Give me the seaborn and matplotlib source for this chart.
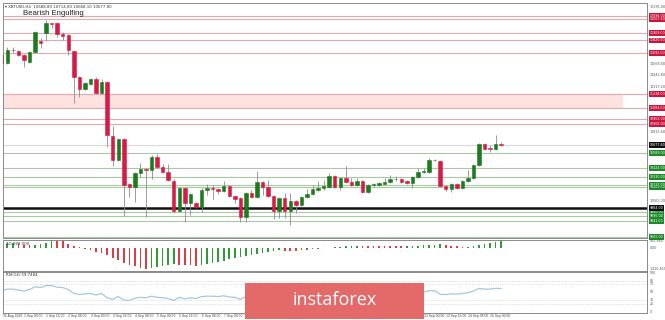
import numpy as np
import pandas as pd
import matplotlib
matplotlib.use("Agg")
import matplotlib.pyplot as plt
import matplotlib.transforms as mtransforms
from matplotlib.patches import Rectangle
import seaborn as sns

# ---------------- data ----------------
opens = [11667, 11579, 11722, 11711, 11667, 11590, 11700, 11821, 11909, 12019,
         12019, 11898, 11887, 11711, 11425, 11293, 11348, 11403, 11249, 11370,
         10776, 10512, 10743, 10248, 10215, 10369, 10413, 10402, 10545, 10435,
         10380, 10281, 9951, 10204, 10039, 10039, 9995, 10182, 10204, 10193,
         10171, 10226, 10116, 10094, 9885, 10149, 10105, 10270, 10215, 10116,
         9951, 10094, 9951, 10061, 10017, 10105, 10138, 10182, 10204, 10215,
         10336, 10215, 10314, 10270, 10237, 10281, 10160, 10232, 10237, 10248,
         10270, 10303, 10303, 10281, 10259, 10325, 10380, 10380, 10512, 10501,
         10226, 10193, 10248, 10204, 10281, 10314, 10457, 10688, 10644, 10633,
         10688.8]
highs = [11678, 11755, 11755, 11722, 11678, 11711, 11931, 11854, 12052, 12024,
         12030, 11920, 11898, 11722, 11436, 11370, 11414, 11425, 11403, 11381,
         10886, 10754, 10754, 10259, 10380, 10479, 10424, 10567, 10578, 10468,
         10468, 10303, 10215, 10215, 10149, 10050, 10204, 10248, 10237, 10204,
         10281, 10237, 10127, 10105, 10160, 10182, 10391, 10281, 10292, 10127,
         10105, 10149, 10149, 10072, 10116, 10193, 10237, 10281, 10292, 10369,
         10347, 10325, 10446, 10314, 10314, 10292, 10248, 10259, 10270, 10314,
         10347, 10336, 10314, 10292, 10336, 10424, 10424, 10534, 10523, 10512,
         10237, 10259, 10259, 10292, 10402, 10468, 10699, 10699, 10677, 10787,
         10714.8]
lows = [11568, 11568, 11689, 11656, 11535, 11579, 11689, 11744, 11821, 11964,
        11865, 11832, 11667, 11139, 11205, 11282, 11337, 11238, 11238, 10655,
        10446, 10501, 9896, 10105, 10050, 10325, 9885, 10303, 10424, 10369,
        10281, 9929, 9940, 9830, 9907, 9984, 9940, 10127, 10083, 10138,
        10160, 10105, 10039, 9830, 9830, 10094, 10094, 10127, 10105, 9863,
        9874, 9874, 9797, 9929, 10006, 10094, 10127, 10171, 10182, 10204,
        10204, 10182, 10259, 10226, 10226, 10149, 10149, 10215, 10226, 10237,
        10259, 10281, 10259, 10248, 10204, 10314, 10369, 10369, 10501, 10215,
        10171, 10160, 10193, 10193, 10270, 10303, 10446, 10622, 10600, 10622,
        10668.1]
closes = [11579, 11722, 11717, 11667, 11612, 11700, 11920, 11799, 12019, 12013,
          11898, 11876, 11722, 11425, 11293, 11359, 11403, 11249, 11370, 10787,
          10512, 10743, 10237, 10215, 10369, 10413, 10402, 10545, 10435, 10380,
          10292, 9951, 10204, 10039, 10138, 9995, 10182, 10204, 10198, 10171,
          10226, 10116, 10083, 9885, 10149, 10105, 10270, 10215, 10116, 9951,
          10094, 9951, 10061, 10017, 10105, 10138, 10193, 10204, 10226, 10336,
          10215, 10314, 10270, 10237, 10281, 10160, 10237, 10243, 10259, 10270,
          10303, 10308, 10270, 10259, 10325, 10380, 10391, 10512, 10507, 10226,
          10193, 10248, 10204, 10281, 10314, 10457, 10688, 10633, 10633, 10688,
          10677.8]

ao_values = [230, 260, 290, 200, 150, 140, 190, 240, 330, 440,
             430, 400, 250, 110, 40, -80, -180, -280, -360, -520,
             -700, -800, -1000, -1150, -1250, -1330, -1410, -1370, -1300, -1220,
             -1160, -1110, -1130, -1150, -1170, -1190, -1140, -1080, -1000, -930,
             -860, -780, -700, -620, -540, -470, -400, -330, -270, -220,
             -180, -200, -215, -225, -190, -150, -110, -70, -40, -10,
             20, 45, 80, 110, 130, 120, 110, 100, 95, 90,
             85, 80, 70, 90, 110, 130, 150, 170, 190, 200,
             170, 130, 90, 30, 40, 90, 180, 250, 310, 360,
             406]

rsi_values = [55, 58, 58, 56, 53, 57, 64, 62, 67, 67,
              63, 62, 57, 47, 44, 46, 47, 43, 47, 36,
              32, 39, 30, 29, 35, 37, 36, 40, 37, 36,
              34, 29, 37, 33, 36, 34, 39, 40, 40, 39,
              41, 38, 37, 32, 39, 38, 42, 41, 38, 34,
              38, 34, 37, 36, 38, 39, 41, 41, 42, 45,
              42, 45, 43, 42, 44, 40, 43, 43, 44, 44,
              46, 46, 45, 44, 47, 49, 50, 54, 54, 45,
              44, 46, 45, 47, 49, 53, 60, 58, 58, 60,
              59.75]

date_labels = ["31 Aug 2020", "1 Sep 00:00", "1 Sep 16:00", "2 Sep 08:00", "3 Sep 00:00",
               "3 Sep 16:00", "4 Sep 08:00", "5 Sep 00:00", "5 Sep 16:00", "6 Sep 08:00",
               "7 Sep 00:00", "7 Sep 16:00", "8 Sep 08:00", "9 Sep 00:00", "9 Sep 16:00",
               "10 Sep 08:00", "11 Sep 00:00", "11 Sep 16:00", "12 Sep 08:00", "13 Sep 00:00",
               "13 Sep 16:00", "14 Sep 08:00", "15 Sep 00:00"]
date_label_bars = [0, 4, 8, 12, 16, 20, 24, 28, 32, 36, 40, 44, 48, 52, 56, 60,
                   64, 68, 72, 76, 80, 84, 88]

red_levels = [12096, 12057.5, 11909, 11826.5, 11692, 10963, 10908]
zone_levels = [11084, 11238]
green_levels = [10589, 10424, 10330, 10237, 10209.5, 9940, 9896, 9841, 9665]
black_levels = [9984]
current_price = 10677.80
price_ticks = [12195.0, 12069.6, 11944.2, 11818.8, 11693.4, 11568.0, 11442.6, 11317.2,
               11191.8, 11066.4, 10941.0, 10815.6, 10690.2, 10564.8, 10439.4, 10314.0,
               10188.6, 10063.2, 9937.8, 9812.4, 9687.0]
rsi_levels = [80, 70, 30, 20]
rsi_ticks = [100, 80, 70, 50, 30, 20, 0]

# ---------------- styling ----------------
sns.set_theme(style="white")
plt.rcParams['font.family'] = ['DejaVu Sans']

W, H = 665, 320
fig = plt.figure(figsize=(W / 100, H / 100), dpi=100)
fig.patch.set_facecolor("white")


def rect(x0, y0, x1, y1):
    return [x0 / W, 1 - y1 / H, (x1 - x0) / W, (y1 - y0) / H]


ax = fig.add_axes(rect(3, 3, 647, 238))
ax_ao = fig.add_axes(rect(3, 239.5, 647, 271))
ax_rsi = fig.add_axes(rect(3, 271.5, 647, 313))

idx = np.arange(len(opens))
o = np.array(opens, float)
h = np.array(highs, float)
l = np.array(lows, float)
c = np.array(closes, float)
XL = (0.234, 116.27)

RED = "#d61c46"
GREEN = "#1e7a1e"

for a in (ax, ax_ao, ax_rsi):
    a.set_xlim(*XL)
    a.set_xticks([])
    a.set_yticks([])
    for s in a.spines.values():
        s.set_color("#8a8a8a")
        s.set_linewidth(0.7)

YL = (9654, 12239)
ax.set_ylim(*YL)
px_per_price = 235 / (YL[1] - YL[0])

# zone
ax.axhspan(zone_levels[0], zone_levels[1], xmin=0, xmax=(111.9 - XL[0]) / (XL[1] - XL[0]),
           facecolor="#fde2df", edgecolor="none", zorder=0)
for y in zone_levels + red_levels:
    ax.axhline(y, color="#e2a9b0", lw=0.8, zorder=1)
for y in green_levels:
    ax.axhline(y, color="#a9c9a4", lw=0.8, zorder=1)
ax.axhline(current_price, color="#d9d9d9", lw=0.8, zorder=1)
for y in black_levels:
    ax.axhline(y, color="#111111", lw=1.8, zorder=1)

# candles
bull = c >= o
colors = np.where(bull, GREEN, RED)
ax.vlines(idx, l, h, color="#8c8c8c", lw=0.6, zorder=2)
body_lo = np.minimum(o, c)
body_h = np.abs(c - o)
ax.bar(idx, body_h, bottom=body_lo, width=0.62, color=colors, edgecolor=colors,
       linewidth=0.4, zorder=3)

# texts in main panel
ax.text(2 / 644, 1 - 2 / 235, "\u25be XBTUSD,H4  10688.80 10714.80 10668.10 10677.80",
        transform=ax.transAxes, fontsize=2.8, color="#333333", ha="left", va="top")
ax.text(20 / 644, 1 - 10.5 / 235, "Bearish Engulfing", transform=ax.transAxes,
        fontsize=5.6, color="#222222", ha="left", va="center",
        family=["Liberation Sans", "DejaVu Sans"])

# right axis labels (main) – ticks hidden behind level boxes are not drawn
tr_main = mtransforms.blended_transform_factory(ax.transAxes, ax.transData)
box_levels = red_levels + zone_levels + green_levels + black_levels + [current_price]
for p in price_ticks:
    if min(abs(p - b) for b in box_levels) * px_per_price < 5:
        continue
    ax.text(1.004, p, f"{p:.2f}", transform=tr_main, fontsize=2.4, color="#555555",
            ha="left", va="center", clip_on=False, zorder=5)


def box(a, tr, p, col):
    a.text(1.004, p, f"{p:.2f}", transform=tr, fontsize=2.3, color="white",
           ha="left", va="center", clip_on=False, zorder=6,
           bbox=dict(boxstyle="square,pad=0.3", fc=col, ec="none"))


for p in red_levels + zone_levels:
    box(ax, tr_main, p, "#c9163f")
for p in green_levels:
    box(ax, tr_main, p, "#1f8a2a")
for p in black_levels + [current_price]:
    box(ax, tr_main, p, "#111111")

# ---------------- AO ----------------
ao = np.array(ao_values, float)
ao_prev = np.concatenate([[ao[0] - 1], ao[:-1]])
ao_cols = np.where(ao > ao_prev, "#2e9b36", "#dc3c44")
ax_ao.set_ylim(-1550, 530)
ax_ao.bar(idx, ao, width=0.3, color=ao_cols, linewidth=0)
ax_ao.text(0.004, 0.93, "AO 288.000", transform=ax_ao.transAxes, fontsize=2.8,
           color="#333333", ha="left", va="top")
tr_ao = mtransforms.blended_transform_factory(ax_ao.transAxes, ax_ao.transData)
for v, s in [(405.98, "405.980"), (0, "0.00"), (-1410.467, "-1410.467")]:
    ax_ao.text(1.004, v, s, transform=tr_ao, fontsize=2.3, color="#555555",
               ha="left", va="center", clip_on=False)

# ---------------- RSI ----------------
ax_rsi.set_ylim(-3, 103)
for v in rsi_levels:
    ax_rsi.axhline(v, color="#c4c4c4", lw=0.5, ls=(0, (1, 1.5)))
rsi_df = pd.DataFrame({"bar": idx, "rsi": rsi_values})
sns.lineplot(data=rsi_df, x="bar", y="rsi", ax=ax_rsi, color="#a7c7dc", lw=0.9)
ax_rsi.set_xlabel("")
ax_rsi.set_ylabel("")
ax_rsi.set_xlim(*XL)
ax_rsi.set_xticks([])
ax_rsi.set_yticks([])
ax_rsi.text(0.004, 0.97, "RSI(14) 59.7484", transform=ax_rsi.transAxes, fontsize=2.8,
            color="#333333", ha="left", va="top")
tr_rsi = mtransforms.blended_transform_factory(ax_rsi.transAxes, ax_rsi.transData)
for v in rsi_ticks:
    ax_rsi.text(1.004, v, str(v), transform=tr_rsi, fontsize=2.3, color="#555555",
                ha="left", va="center", clip_on=False)

# date labels
tr_date = mtransforms.blended_transform_factory(ax_rsi.transData, fig.transFigure)
for b, s in zip(date_label_bars, date_labels):
    xb = max(b, 0.3)
    ax_rsi.text(xb, 1 - 313.8 / H, s, transform=tr_date, fontsize=2.4, color="#444444",
                ha="left", va="top", clip_on=False,
                family=["Liberation Sans", "DejaVu Sans"])

# watermark
fig.add_artist(Rectangle((245 / W, 1 - 319 / H), 179 / W, 36 / H,
                         transform=fig.transFigure, facecolor="#e46a6a",
                         edgecolor="none", zorder=20))
fig.text(335 / W, 1 - 300 / H, "instaforex", fontsize=13, color="white",
         ha="center", va="center", zorder=21, family=["Open Sans", "DejaVu Sans"])

fig.savefig("out.png", dpi=100, facecolor="white")
